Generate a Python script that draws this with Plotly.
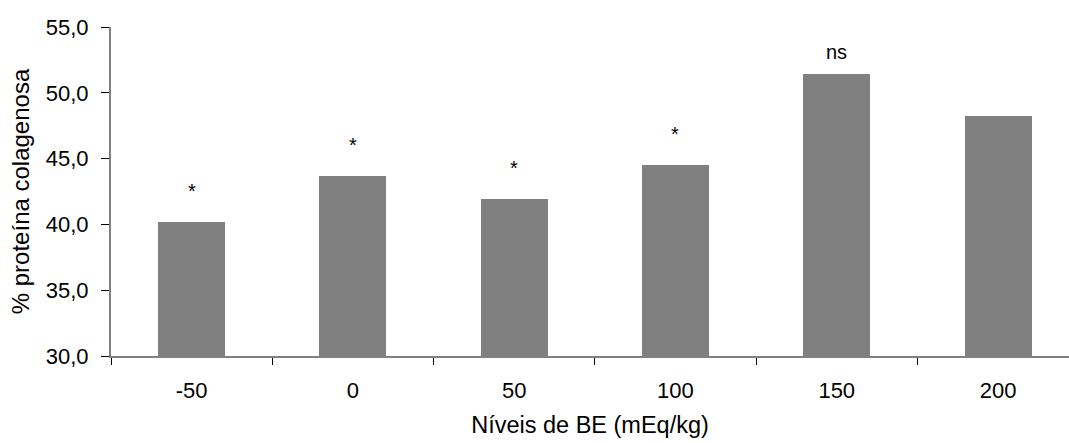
import plotly.graph_objects as go

# Base excess levels (mEq/kg) and collagenous protein share (%)
niveis = ["-50", "0", "50", "100", "150", "200"]
proteina = [40.2, 43.7, 41.9, 44.5, 51.4, 48.2]
significancia = ["*", "*", "*", "*", "ns", ""]

y_ticks = [30, 35, 40, 45, 50, 55]
y_ticktext = ["30,0", "35,0", "40,0", "45,0", "50,0", "55,0"]

FONT = "Liberation Sans, Arial, sans-serif"

fig = go.Figure(
    go.Bar(
        x=niveis,
        y=proteina,
        marker=dict(color="#808080", line=dict(width=0)),
        width=0.415,
    )
)

# significance marks above each bar (x given as category index)
for i, (val, lab) in enumerate(zip(proteina, significancia)):
    if not lab:
        continue
    star = lab == "*"
    fig.add_annotation(
        x=i, y=val, xref="x", yref="y", text=lab, showarrow=False,
        yanchor="bottom", yshift=18 if star else 9,
        font=dict(family=FONT, size=20, color="#000000"),
    )

fig.update_layout(
    width=1069, height=443,
    margin=dict(l=111, r=0, t=27, b=87),
    paper_bgcolor="white", plot_bgcolor="white",
    showlegend=False,
    font=dict(family=FONT, size=22, color="#000000"),
    bargap=0,
)

fig.update_xaxes(
    type="category",
    range=[-0.5, 5.44],
    showline=True, linecolor="#808080", linewidth=2,
    ticks="outside", tickson="boundaries", ticklen=7, tickcolor="#000000", tickwidth=1,
    showgrid=False, zeroline=False,
    tickfont=dict(family=FONT, size=22),
    ticklabelstandoff=14,
    title=dict(text="Níveis de BE (mEq/kg)", font=dict(family=FONT, size=23.5), standoff=14),
)

fig.update_yaxes(
    range=[30, 55],
    tickvals=y_ticks, ticktext=y_ticktext,
    showline=True, linecolor="#808080", linewidth=2,
    ticks="outside", ticklen=8, tickcolor="#000000", tickwidth=1,
    showgrid=False, zeroline=False,
    tickfont=dict(family=FONT, size=22),
    ticklabelstandoff=8,
    title=dict(text="% proteína colagenosa", font=dict(family=FONT, size=24), standoff=9),
)

fig.write_html("out.html")
